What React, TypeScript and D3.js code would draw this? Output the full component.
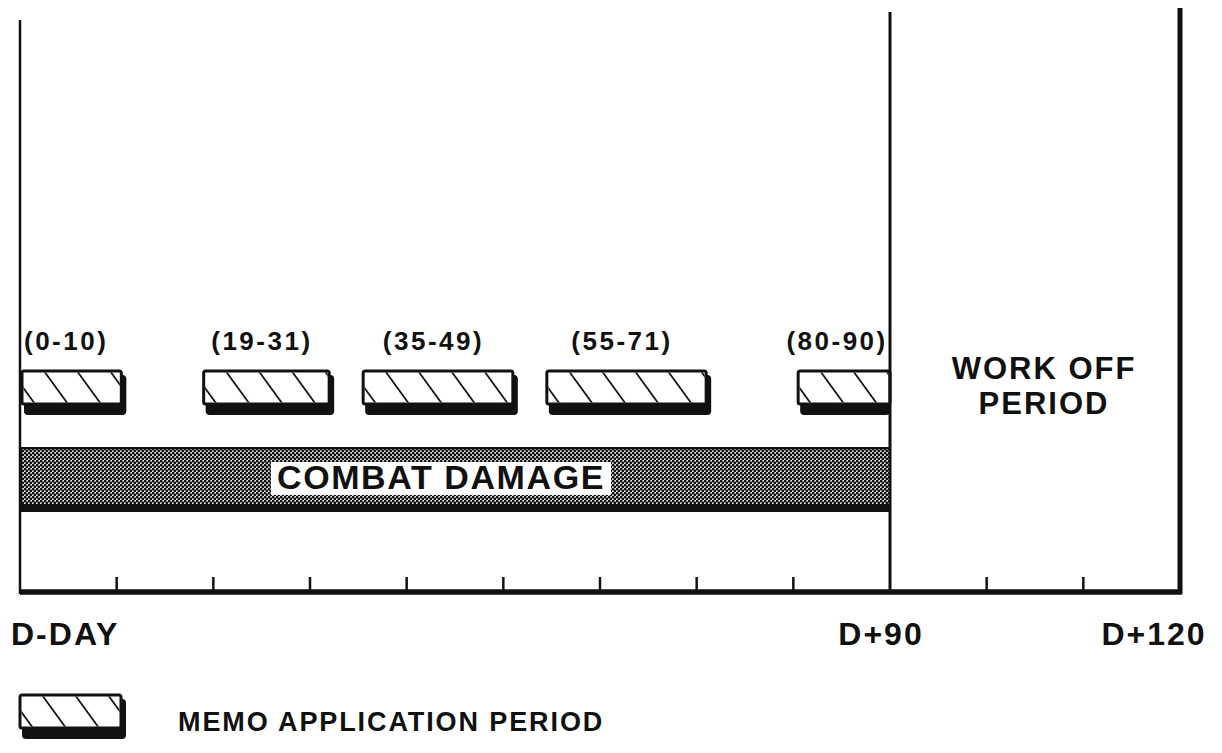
import * as d3 from "d3";
import React, { useEffect, useRef } from "react";

// memo application periods (days after D-Day), as drawn
const memoLabels = ["(0-10)", "(19-31)", "(35-49)", "(55-71)", "(80-90)"];
const memoStart = [0, 19, 35.5, 54.5, 80.5];
const memoEnd = [11, 32.5, 51.5, 71.5, 90];

const combatStart = 0;
const combatEnd = 90;
const workOffLines = ["WORK OFF", "PERIOD"];

const dayTicks = [10, 20, 30, 40, 50, 60, 70, 80, 100, 110];
const periodDays = [0, 90, 120];
const periodLabels = ["D-DAY", "D+90", "D+120"];

const FONT = "'Liberation Sans', Arial, Helvetica, sans-serif";
const INK = "#111";

export default function App() {
   const ref = useRef<SVGSVGElement>(null);

   useEffect(() => {
      const width = 1222;
      const height = 753;
      const svg = d3.select(ref.current);
      svg.selectAll("*").remove();
      svg.attr("width", width).attr("height", height);

      const x = d3.scaleLinear().domain([0, 120]).range([20, 1180]);
      const baseY = 592;
      const barTop = 371;
      const barH = 33;

      const defs = svg.append("defs");

      // halftone for combat damage
      const dots = defs
         .append("pattern")
         .attr("id", "halftone")
         .attr("patternUnits", "userSpaceOnUse")
         .attr("width", 4)
         .attr("height", 4);
      dots.append("rect").attr("width", 4).attr("height", 4).attr("fill", "#e8e8e8");
      dots.append("circle").attr("cx", 1).attr("cy", 1).attr("r", 1.45).attr("fill", INK);
      dots.append("circle").attr("cx", 3).attr("cy", 3).attr("r", 1.45).attr("fill", INK);

      svg.append("rect").attr("width", width).attr("height", height).attr("fill", "#fff");

      // hatched memo box with drop shadow
      const memoBox = (id: string, x0: number, x1: number, top: number, shadowRight: boolean) => {
         const hatch = defs
            .append("pattern")
            .attr("id", id)
            .attr("patternUnits", "userSpaceOnUse")
            .attr("width", 33)
            .attr("height", 40)
            .attr("patternTransform", `translate(${x0 + 20},${top}) skewX(36)`);
         hatch
            .append("line")
            .attr("x1", 2)
            .attr("x2", 2)
            .attr("y1", -2)
            .attr("y2", 42)
            .attr("stroke", INK)
            .attr("stroke-width", 2.2);

         const g = svg.append("g");
         const innerW = shadowRight ? x1 - x0 - 5 : x1 - x0;
         g.append("rect")
            .attr("x", x0 + 2)
            .attr("y", top + 4)
            .attr("width", x1 - x0 - 2)
            .attr("height", barH + 7)
            .attr("rx", 4)
            .attr("fill", INK);
         g.append("rect")
            .attr("x", x0)
            .attr("y", top)
            .attr("width", innerW)
            .attr("height", barH)
            .attr("rx", 2)
            .attr("fill", "#fff")
            .attr("stroke", INK)
            .attr("stroke-width", 3);
         g.append("rect")
            .attr("x", x0 + 1.5)
            .attr("y", top + 1.5)
            .attr("width", innerW - 3)
            .attr("height", barH - 3)
            .attr("fill", `url(#${id})`);
      };

      memoLabels.forEach((label, i) => {
         const x0 = x(memoStart[i]);
         const x1 = x(memoEnd[i]);
         memoBox(`hatch-${i}`, x0 + (i === 0 ? 2 : 0), x1, barTop, memoEnd[i] < combatEnd);
         svg.append("text")
            .attr("x", (x0 + x1) / 2 - 7)
            .attr("y", 350)
            .attr("text-anchor", "middle")
            .attr("font-family", FONT)
            .attr("font-weight", "bold")
            .attr("font-size", 26)
            .attr("letter-spacing", 2.5)
            .attr("fill", INK)
            .text(label);
      });

      // combat damage band
      const cTop = 447;
      const cX0 = x(combatStart);
      const cX1 = x(combatEnd);
      svg.append("rect")
         .attr("x", cX0)
         .attr("y", cTop)
         .attr("width", cX1 - cX0)
         .attr("height", 65)
         .attr("fill", INK);
      svg.append("rect")
         .attr("x", cX0 + 2)
         .attr("y", cTop + 2)
         .attr("width", cX1 - cX0 - 2)
         .attr("height", 55)
         .attr("fill", "url(#halftone)");
      svg.append("rect")
         .attr("x", 271)
         .attr("y", 462)
         .attr("width", 340)
         .attr("height", 33)
         .attr("fill", "#fff");
      svg.append("text")
         .attr("x", 441)
         .attr("y", 489)
         .attr("text-anchor", "middle")
         .attr("font-family", FONT)
         .attr("font-weight", "bold")
         .attr("font-size", 34)
         .attr("letter-spacing", 1.6)
         .attr("fill", INK)
         .text("COMBAT DAMAGE");

      // work off period text
      workOffLines.forEach((line, i) => {
         svg.append("text")
            .attr("x", 1044)
            .attr("y", 379 + i * 35)
            .attr("text-anchor", "middle")
            .attr("font-family", FONT)
            .attr("font-weight", "bold")
            .attr("font-size", 31)
            .attr("letter-spacing", 2)
            .attr("fill", INK)
            .text(line);
      });

      // axis: baseline, ticks and period lines
      const axis = svg.append("g").attr("stroke", INK).attr("fill", "none");
      axis.append("line")
         .attr("x1", x(0))
         .attr("x2", x(120) + 2)
         .attr("y1", baseY)
         .attr("y2", baseY)
         .attr("stroke-width", 5.5);
      axis.selectAll(".tick")
         .data(dayTicks)
         .join("line")
         .attr("x1", (d) => x(d))
         .attr("x2", (d) => x(d))
         .attr("y1", baseY - 15)
         .attr("y2", baseY)
         .attr("stroke-width", 2.5);
      const lineTops = [20, 12, 8];
      const lineWidths = [2.5, 3, 5];
      periodDays.forEach((d, i) => {
         axis.append("line")
            .attr("x1", x(d))
            .attr("x2", x(d))
            .attr("y1", lineTops[i])
            .attr("y2", baseY + 2)
            .attr("stroke-width", lineWidths[i]);
      });

      const labelShift = [-9, -9, -26];
      const labelAnchor = ["start", "middle", "middle"];
      periodLabels.forEach((label, i) => {
         svg.append("text")
            .attr("x", x(periodDays[i]) + labelShift[i])
            .attr("y", 645)
            .attr("text-anchor", labelAnchor[i])
            .attr("font-family", FONT)
            .attr("font-weight", "bold")
            .attr("font-size", 32)
            .attr("letter-spacing", 2)
            .attr("fill", INK)
            .text(label);
      });

      // legend
      memoBox("hatch-legend", 20, 126, 695, true);
      svg.append("text")
         .attr("x", 178)
         .attr("y", 731)
         .attr("font-family", FONT)
         .attr("font-weight", "bold")
         .attr("font-size", 27)
         .attr("letter-spacing", 1.9)
         .attr("fill", INK)
         .text("MEMO APPLICATION PERIOD");
   }, []);

   return <svg ref={ref} style={{ position: "absolute", left: 0, top: 0, display: "block" }}></svg>;
}
